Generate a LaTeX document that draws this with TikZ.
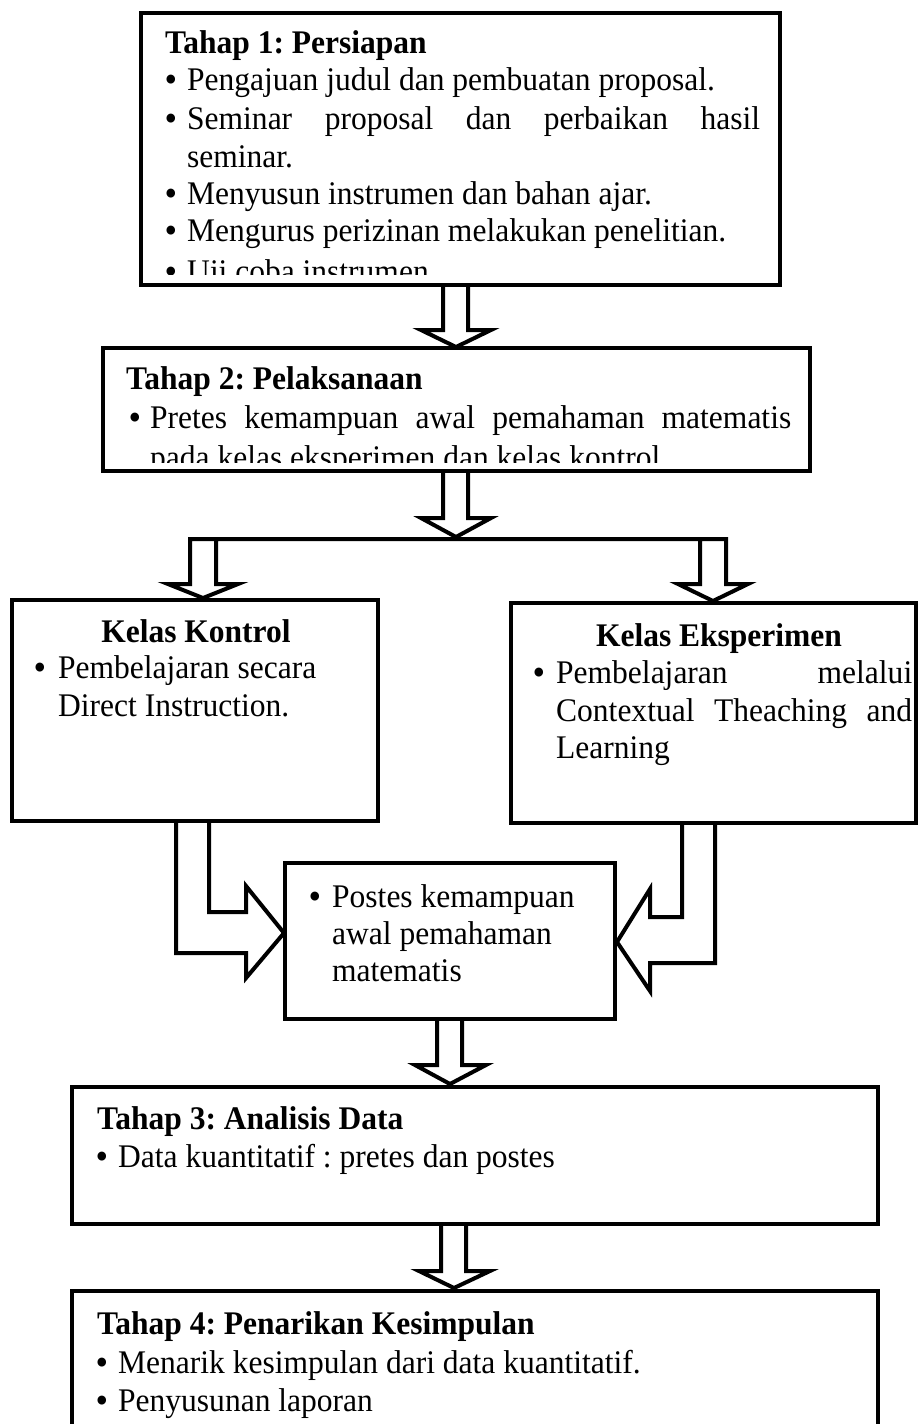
\documentclass[tikz,border=0pt]{standalone}
\usepackage{fontspec}
\setmainfont[FakeStretch=0.955]{Liberation Serif}
\usetikzlibrary{fit}
\frenchspacing
\begin{document}
\begin{tikzpicture}[x=1pt,y=-1pt,
  box/.style={draw, line width=4pt, inner sep=0pt},
  blk/.style={draw, line width=4pt, line join=miter},
  txt/.style={anchor=base west, inner sep=0pt, font=\fontsize{33}{38}\selectfont\frenchspacing},
  ttl/.style={anchor=base west, inner sep=0pt, font=\fontsize{33}{38}\selectfont\bfseries\frenchspacing},
  ctl/.style={anchor=base, inner sep=0pt, font=\fontsize{33}{38}\selectfont\bfseries\frenchspacing},
  bul/.style={anchor=base, inner sep=0pt, font=\fontsize{33}{38}\selectfont\bfseries},
]
\fill[white] (0,0) rectangle (918,1424);
\useasboundingbox (0,0) rectangle (918,1424);

% ---------- boxes ----------
\node[box, fit={(141,13) (780,285)}] (b1) {};
\node[box, fit={(103,348) (810,471)}] (b2) {};
\node[box, fit={(12,600) (378,821)}] (bk) {};
\node[box, fit={(511,603) (916,823)}] (be) {};
\node[box, fit={(285,863) (615,1019)}] (bp) {};
\node[box, fit={(72,1087) (878,1224)}] (b3) {};
\node[box, fit={(72,1291) (878,1440)}] (b4) {};

% ---------- block arrows ----------
% b1 -> b2
\draw[blk] (443,285) -- (443,330) -- (421,330) -- (456,347) -- (491,330) -- (468,330) -- (468,285);
% b2 -> split bar
\draw[blk] (443,471) -- (443,518) -- (421,518) -- (456,537) -- (491,518) -- (468,518) -- (468,471);
% split bar -> bk, be
\draw[blk] (216,539) -- (216,584) -- (238,584) -- (203,598) -- (168,584) -- (190,584)
  -- (190,539) -- (726,539) -- (726,584) -- (748,584) -- (713,601) -- (678,584)
  -- (700,584) -- (700,539);
% bk -> bp
\draw[blk] (209,821) -- (209,912) -- (246,912) -- (246,886) -- (284,933) -- (246,978)
  -- (246,953) -- (176,953) -- (176,821);
% be -> bp
\draw[blk] (682,823) -- (682,917) -- (650,917) -- (650,889) -- (617,942) -- (650,991)
  -- (650,963) -- (715,963) -- (715,823);
% bp -> b3
\draw[blk] (437,1019) -- (437,1065) -- (415,1065) -- (450,1084) -- (486,1065) -- (462,1065) -- (462,1019);
% b3 -> b4
\draw[blk] (441,1224) -- (441,1271) -- (419,1271) -- (454,1288) -- (490,1271) -- (466,1271) -- (466,1224);

% ---------- Tahap 1 ----------
\node[ttl] (t1) at (165,53) {Tahap 1: Persiapan};
\node[bul] (t1b1) at (171,90) {•};
\node[txt] (t1l1) at (187,90) {Pengajuan judul dan pembuatan proposal.};
\node[bul] (t1b2) at (171,129) {•};
\node[txt] (t1l2) at (187,129) {\makebox[573pt][s]{Seminar proposal dan perbaikan hasil}};
\node[txt] (t1l3) at (187,167) {seminar.};
\node[bul] (t1b4) at (171,204) {•};
\node[txt] (t1l4) at (187,204) {Menyusun instrumen dan bahan ajar.};
\node[bul] (t1b5) at (171,241) {•};
\node[txt] (t1l5) at (187,241) {Mengurus perizinan melakukan penelitian.};
\begin{scope}
  \clip (141,13) rectangle (780,274);
  \node[bul] (t1b6) at (171,282) {•};
  \node[txt] (t1l6) at (187,282) {Uji coba instrumen};
\end{scope}

% ---------- Tahap 2 ----------
\node[ttl] (t2) at (126,389) {Tahap 2: Pelaksanaan};
\node[bul] (t2b1) at (135,428) {•};
\node[txt] (t2l1) at (150,428) {\makebox[641pt][s]{Pretes kemampuan awal pemahaman matematis}};
\begin{scope}
  \clip (103,348) rectangle (810,462);
  \node[txt] (t2l2) at (150,468) {pada kelas eksperimen dan kelas kontrol};
\end{scope}

% ---------- Kelas Kontrol ----------
\node[ctl] (tk) at (196,642) {Kelas Kontrol};
\node[bul] (tkb) at (40,678) {•};
\node[txt] (tkl1) at (58,678) {Pembelajaran secara};
\node[txt] (tkl2) at (58,716) {Direct Instruction.};

% ---------- Kelas Eksperimen ----------
\node[ctl] (te) at (719,646) {Kelas Eksperimen};
\node[bul] (teb) at (539,683) {•};
\node[txt] (tel1) at (556,683) {\makebox[356pt][s]{Pembelajaran melalui}};
\node[txt] (tel2) at (556,721) {\makebox[356pt][s]{Contextual Theaching and}};
\node[txt] (tel3) at (556,758) {Learning};

% ---------- Postes ----------
\node[bul] (tpb) at (315,907) {•};
\node[txt] (tpl1) at (332,907) {Postes kemampuan};
\node[txt] (tpl2) at (332,944) {awal pemahaman};
\node[txt] (tpl3) at (332,981) {matematis};

% ---------- Tahap 3 ----------
\node[ttl] (t3) at (97,1129) {Tahap 3: Analisis Data};
\node[bul] (t3b1) at (102,1167) {•};
\node[txt] (t3l1) at (118,1167) {Data kuantitatif : pretes dan postes};

% ---------- Tahap 4 ----------
\node[ttl] (t4) at (97,1334) {Tahap 4: Penarikan Kesimpulan};
\node[bul] (t4b1) at (102,1373) {•};
\node[txt] (t4l1) at (118,1373) {Menarik kesimpulan dari data kuantitatif.};
\node[bul] (t4b2) at (102,1411) {•};
\node[txt] (t4l2) at (118,1411) {Penyusunan laporan};
\end{tikzpicture}
\end{document}
